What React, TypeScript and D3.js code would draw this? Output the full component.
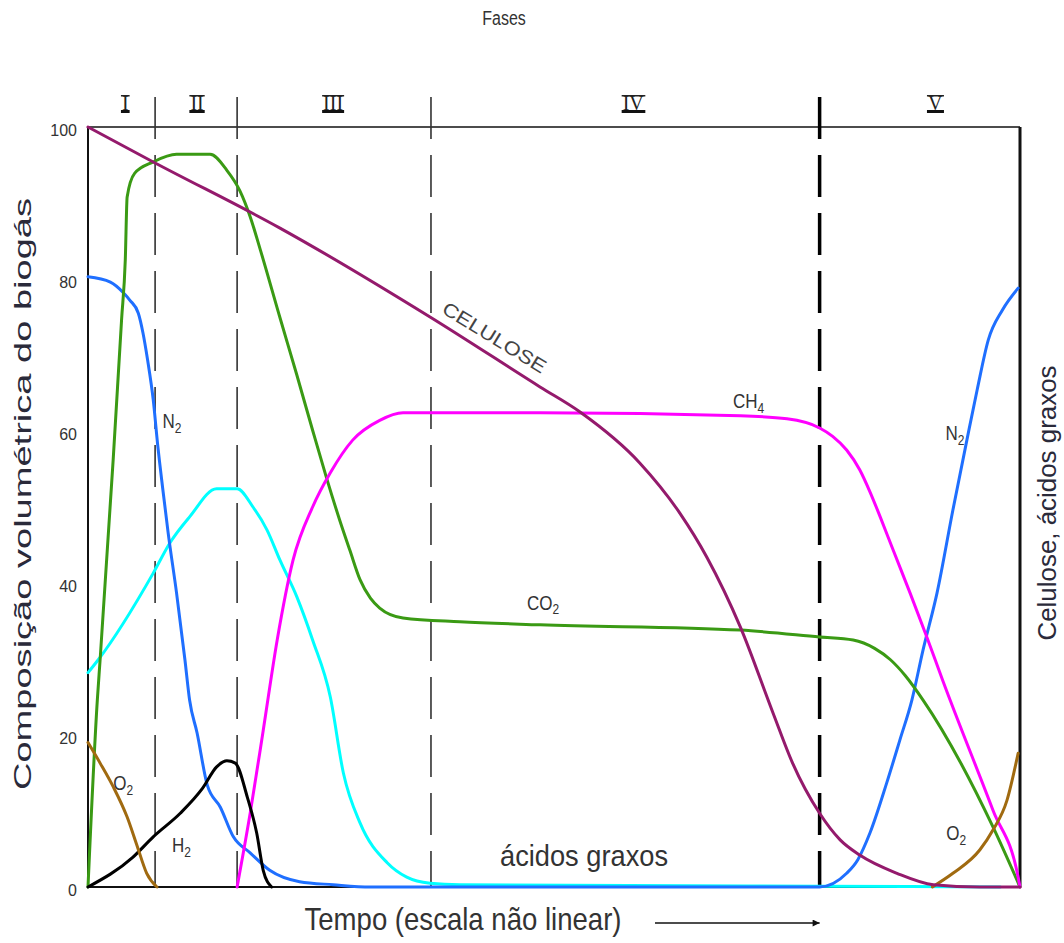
import React, { useEffect, useRef } from "react";
import * as d3 from "d3";

const width = 1064;
const height = 943;

// time runs on an arbitrary (non linear) 0..100 scale
const phaseBounds = [7.2, 16.0, 36.8, 78.5];
const phaseNames = ["I", "II", "III", "IV", "V"];
const phaseLabelT = [4.0, 11.7, 26.3, 58.5, 90.9];
const yTicks = [0, 20, 40, 60, 80, 100];

// cellulose
const celT = [0, 7.0, 20.6, 36.7, 48.5, 52.8, 59.2, 63.5, 66.4, 70.0, 73.5, 75.6, 78.5, 80.7, 82.8, 86.8, 90.7, 95.7, 100];
const celV = [100, 95.4, 86.7, 75.0, 65.8, 62.5, 55.8, 49.2, 43.4, 34.2, 22.9, 16.3, 9.7, 6.2, 4.2, 1.8, 0.3, 0, 0];

// CO2
const co2T = [0, 1.0, 1.3, 2.7, 3.6, 4.0, 4.2, 5.0, 7.0, 9.5, 13.1, 14.9, 16.3, 17.4, 18.5, 20.6, 22.4, 24.1, 25.6, 27.0, 28.1, 29.2, 30.3, 31.3, 33.8, 39.9, 48.5, 70.0, 78.5, 82.1, 84.4, 86.1, 87.7, 89.6, 97.1, 100];
const co2V = [0, 24.6, 29.9, 56.2, 74.6, 82.5, 90.8, 93.9, 95.4, 96.4, 96.4, 94.3, 91.6, 88.2, 83.8, 74.9, 67.4, 60.1, 53.8, 48.3, 44.3, 40.4, 38.0, 36.7, 35.4, 34.9, 34.5, 33.8, 32.9, 32.5, 31.4, 29.9, 27.8, 24.6, 7.9, 0];

// N2
const n2T = [0, 2.4, 3.8, 4.5, 5.4, 5.9, 6.4, 7.0, 7.5, 8.0, 8.6, 9.5, 10.4, 10.9, 11.7, 12.8, 14.2, 15.6, 17.4, 19.5, 22.7, 26.3, 30.3, 78.5, 81.4, 82.6, 83.9, 85.7, 87.1, 88.4, 89.6, 91.1, 92.8, 94.3, 95.4, 96.6, 98.1, 99.8];
const n2V = [80.3, 79.6, 78.2, 77.2, 75.5, 72.9, 69.3, 64.1, 57.9, 52.6, 46.6, 38.7, 29.9, 24.6, 20.3, 13.4, 10.5, 6.6, 4.5, 2.2, 0.7, 0.3, 0, 0, 1.8, 3.6, 7.1, 13.7, 19.3, 24.6, 31.2, 38.7, 49.6, 58.8, 65.4, 72.0, 75.9, 78.8];

// fatty acids (acidos graxos)
const acT = [0, 1.1, 7.0, 8.8, 10.9, 13.8, 16.0, 17.7, 19.2, 20.6, 22.4, 24.1, 26.0, 27.4, 29.2, 32.1, 34.2, 36.7, 39.9, 78.5, 97.9];
const acV = [28.2, 29.9, 41.3, 45.3, 48.7, 52.4, 52.4, 50.0, 47.0, 43.0, 38.2, 32.5, 25.0, 15.0, 8.4, 3.2, 1.3, 0.5, 0.3, 0.1, 0];

// CH4
const ch4T = [16.0, 17.4, 18.8, 20.3, 22.0, 24.1, 26.0, 28.4, 31.3, 33.8, 48.5, 70.0, 75.0, 78.5, 79.9, 81.4, 82.8, 83.9, 85.0, 86.4, 88.2, 90.0, 91.7, 97.1, 99.8, 100];
const ch4V = [0, 9.7, 20.6, 32.5, 43.0, 50.0, 54.5, 58.8, 61.4, 62.4, 62.4, 62.0, 61.6, 60.4, 59.3, 57.5, 54.9, 52.0, 48.7, 44.3, 38.7, 32.9, 27.2, 10.1, 1.3, 0];

// H2
const h2T = [0, 4.8, 7.0, 9.9, 12.3, 13.8, 14.9, 15.8, 17.1, 18.1, 18.8, 19.7];
const h2V = [0, 3.9, 6.6, 9.7, 13.0, 15.8, 16.6, 16.3, 11.8, 7.1, 2.2, 0];

// O2, start and end
const o2aT = [0, 1.3, 2.7, 4.2, 5.3, 6.3, 7.4];
const o2aV = [19.0, 16.3, 13.2, 9.2, 5.3, 1.8, 0];
const o2bT = [90.6, 92.8, 95.7, 97.1, 98.6, 99.8];
const o2bV = [0, 1.8, 4.9, 7.5, 11.4, 17.6];

// curve labels
const labelMain = ["N", "O", "H", "CO", "CH", "N", "O"];
const labelSub = ["2", "2", "2", "2", "4", "2", "2"];
const labelT = [8.0, 2.7, 9.0, 47.1, 69.2, 92.0, 92.1];
const labelV = [60.4, 12.8, 4.6, 36.5, 63.0, 58.8, 6.2];

const zip = (t: number[], v: number[]) => t.map((d, i) => [d, v[i]] as [number, number]);

const FONT = "'Liberation Sans', Arial, sans-serif";
const S = 1.22; // text in the source looks stretched vertically

export default function App() {
  const svgRef = useRef<SVGSVGElement>(null);

  useEffect(() => {
    const svg = d3.select(svgRef.current);
    svg.selectAll("*").remove();

    const margin = { left: 88, top: 127, right: 44, bottom: 56 };
    const x = d3.scaleLinear().domain([0, 100]).range([margin.left, width - margin.right]);
    const y = d3.scaleLinear().domain([0, 100]).range([height - margin.bottom, margin.top]);

    const ink = "#333";

    // stretched horizontal text helper
    const addText = (tx: number, ty: number, str: string, size: number, anchor = "start", extra?: (t: any) => void) => {
      const t = svg.append("text")
        .attr("transform", `translate(${tx},${ty}) scale(1,${S})`)
        .attr("font-family", FONT)
        .attr("font-size", size)
        .attr("fill", ink)
        .attr("text-anchor", anchor)
        .text(str);
      if (extra) extra(t);
      return t;
    };

    // title
    addText(504, 25, "Fases", 16, "middle");

    // phase labels: roman numerals with a thin bar on top and a heavy one below
    phaseNames.forEach((p, i) => {
      const t = svg.append("text")
        .attr("x", x(phaseLabelT[i]))
        .attr("y", 110)
        .attr("text-anchor", "middle")
        .attr("font-family", "'Liberation Serif', 'DejaVu Serif', serif")
        .attr("font-size", 20)
        .attr("fill", "#222")
        .text(p);
      const bb = (t.node() as SVGTextElement).getBBox();
      svg.append("rect")
        .attr("x", bb.x - 1).attr("width", bb.width + 2)
        .attr("y", 95).attr("height", 1.5)
        .attr("fill", "#222");
      svg.append("rect")
        .attr("x", bb.x - 1).attr("width", bb.width + 2)
        .attr("y", 110).attr("height", 3)
        .attr("fill", "#111");
    });

    // frame
    svg.append("line")
      .attr("x1", x(0)).attr("x2", x(100)).attr("y1", y(100)).attr("y2", y(100))
      .attr("stroke", "#111").attr("stroke-width", 1.5);
    svg.append("line")
      .attr("x1", x(0)).attr("x2", x(0)).attr("y1", y(100)).attr("y2", y(0))
      .attr("stroke", "#111").attr("stroke-width", 2);
    svg.append("line")
      .attr("x1", x(100)).attr("x2", x(100)).attr("y1", y(100)).attr("y2", y(0))
      .attr("stroke", "#111").attr("stroke-width", 3);
    svg.append("line")
      .attr("x1", x(0)).attr("x2", x(100)).attr("y1", y(0)).attr("y2", y(0))
      .attr("stroke", "#111").attr("stroke-width", 2);

    // phase dividers
    phaseBounds.forEach((b, i) => {
      const last = i === phaseBounds.length - 1;
      svg.append("line")
        .attr("x1", x(b)).attr("x2", x(b))
        .attr("y1", 97).attr("y2", y(0))
        .attr("stroke", last ? "#000" : "#333")
        .attr("stroke-width", last ? 3.5 : 1.6)
        .attr("stroke-dasharray", "42 16");
    });

    // y axis labels
    const yAxis = svg.append("g")
      .attr("transform", `translate(${x(0)},0)`)
      .call(d3.axisLeft(y).tickValues(yTicks).tickSize(0).tickPadding(11));
    yAxis.select(".domain").remove();
    yAxis.selectAll("text")
      .attr("font-family", FONT)
      .attr("font-size", 16)
      .attr("fill", ink)
      .attr("dy", "0.5em");

    // axis titles
    svg.append("text")
      .attr("transform", `translate(31,${494}) rotate(-90)`)
      .attr("text-anchor", "middle")
      .attr("font-family", FONT)
      .attr("font-size", 24)
      .attr("fill", "#2a2a3a")
      .attr("textLength", 592)
      .attr("lengthAdjust", "spacingAndGlyphs")
      .text("Composição volumétrica do biogás");
    svg.append("text")
      .attr("transform", `translate(1056,${503}) rotate(-90)`)
      .attr("text-anchor", "middle")
      .attr("font-family", FONT)
      .attr("font-size", 25)
      .attr("fill", "#2a2a3a")
      .attr("textLength", 275)
      .attr("lengthAdjust", "spacingAndGlyphs")
      .text("Celulose, ácidos graxos");

    // x title and arrow
    addText(463, 930, "Tempo (escala não linear)", 25, "middle", (t) =>
      t.attr("textLength", 317).attr("lengthAdjust", "spacingAndGlyphs"));
    svg.append("defs").append("marker")
      .attr("id", "arrow")
      .attr("viewBox", "0 0 10 10")
      .attr("refX", 10).attr("refY", 5)
      .attr("markerWidth", 14).attr("markerHeight", 7)
      .attr("markerUnits", "userSpaceOnUse")
      .attr("orient", "auto")
      .append("path")
      .attr("d", "M0,0 L10,5 L0,10 Z")
      .attr("fill", "#111");
    svg.append("line")
      .attr("x1", 655).attr("x2", x(phaseBounds[3]))
      .attr("y1", 923).attr("y2", 923)
      .attr("stroke", "#111").attr("stroke-width", 1.5)
      .attr("marker-end", "url(#arrow)");

    // curves
    const line = d3.line<[number, number]>()
      .x((d) => x(d[0]))
      .y((d) => y(d[1]))
      .curve(d3.curveMonotoneX);

    const series: [number[], number[], string][] = [
      [acT, acV, "#00ffff"],
      [n2T, n2V, "#1f6fff"],
      [co2T, co2V, "#3a9a14"],
      [ch4T, ch4V, "#ff00ff"],
      [h2T, h2V, "#000000"],
      [o2aT, o2aV, "#a06a10"],
      [o2bT, o2bV, "#a06a10"],
      [celT, celV, "#941a6c"],
    ];
    series.forEach(([t, v, c]) => {
      svg.append("path")
        .datum(zip(t, v))
        .attr("fill", "none")
        .attr("stroke", c)
        .attr("stroke-width", 3)
        .attr("stroke-linejoin", "round")
        .attr("stroke-linecap", "round")
        .attr("d", line);
    });

    // curve labels
    labelMain.forEach((m, i) => {
      const t = addText(x(labelT[i]), y(labelV[i]), m, 17);
      t.text(null);
      t.append("tspan").text(m);
      t.append("tspan").attr("font-size", 12).attr("dy", 4).text(labelSub[i]);
    });
    addText(584, 866, "ácidos graxos", 24, "middle", (t) =>
      t.attr("textLength", 168).attr("lengthAdjust", "spacingAndGlyphs"));

    // cellulose label along its line
    svg.append("text")
      .attr("transform", `translate(491,343) rotate(31.5)`)
      .attr("text-anchor", "middle")
      .attr("font-family", FONT)
      .attr("font-size", 19)
      .attr("fill", "#444")
      .attr("textLength", 118)
      .attr("lengthAdjust", "spacingAndGlyphs")
      .text("CELULOSE");
  }, []);

  return (
    <svg
      ref={svgRef}
      width={width}
      height={height}
      style={{ position: "absolute", left: 0, top: 0, background: "#fff" }}
    />
  );
}
